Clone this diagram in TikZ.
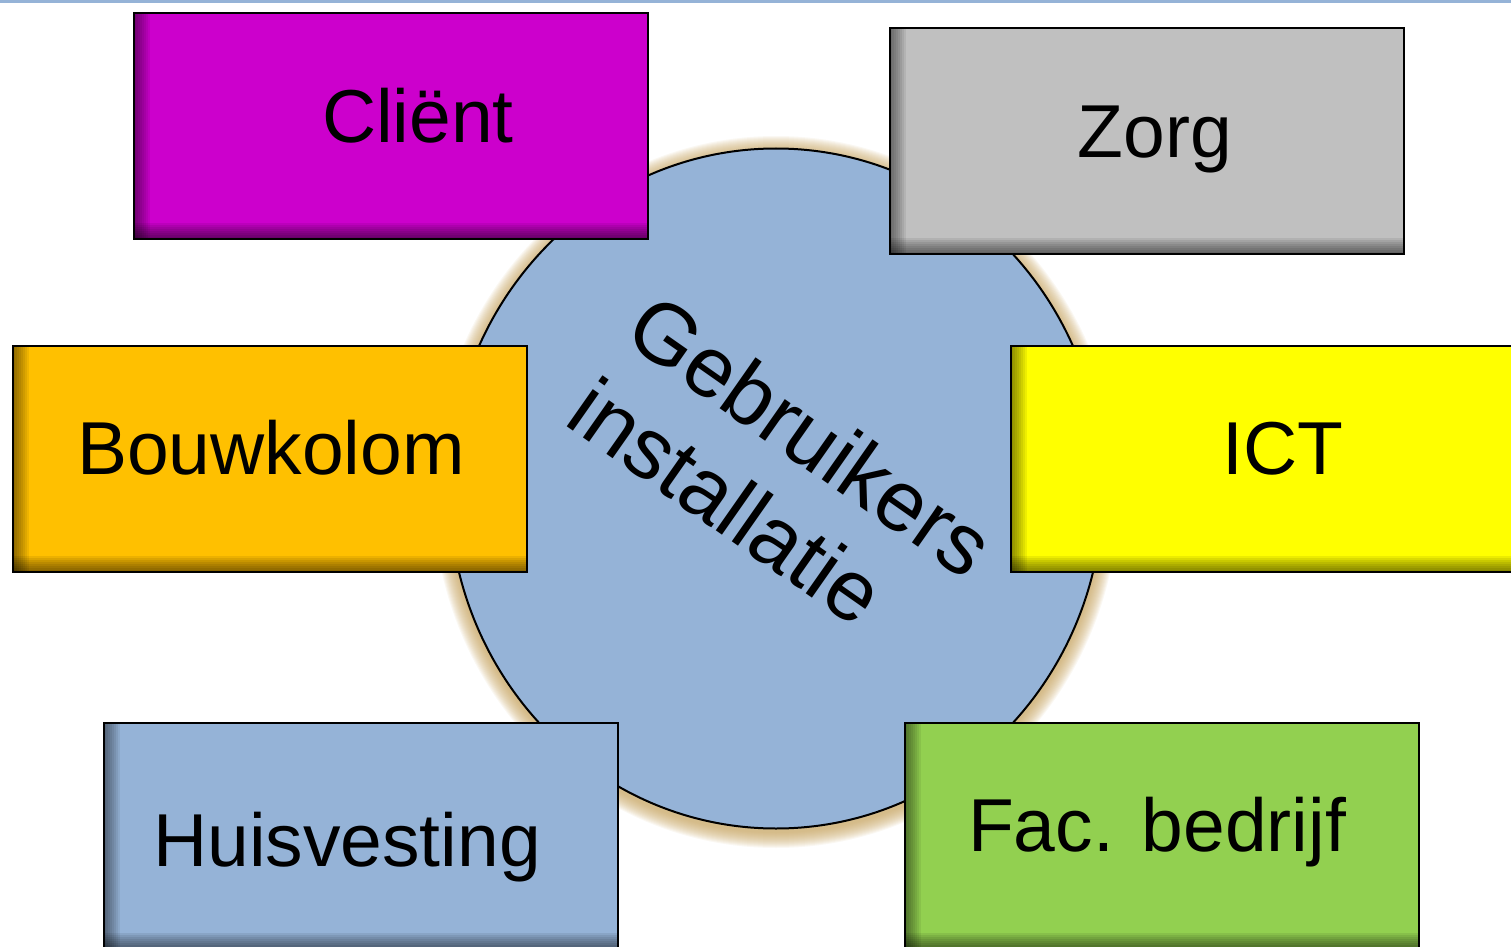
\documentclass[tikz,border=0pt]{standalone}
\usepackage{fontspec}
\setmainfont{Liberation Sans}
\usetikzlibrary{shapes.geometric}
\definecolor{cblue}{RGB}{149,179,215}
\definecolor{cmag}{RGB}{204,0,204}
\definecolor{cgray}{RGB}{192,192,192}
\definecolor{corange}{RGB}{255,192,0}
\definecolor{cyellow}{RGB}{255,255,0}
\definecolor{cgreen}{RGB}{146,208,80}
\definecolor{cglow}{RGB}{196,160,90}
\tikzset{
  box/.style={rectangle, fill=#1, draw=black, line width=1pt,
    minimum width=257pt, minimum height=113pt, inner sep=0pt, outer sep=0pt,
    path picture={
      \foreach \k in {1,...,8}{
        \fill[black, opacity=0.065]
          (path picture bounding box.south west) rectangle ([xshift=\k pt]path picture bounding box.north west);
        \fill[black, opacity=0.075]
          (path picture bounding box.south west) rectangle ([yshift=\k pt]path picture bounding box.south east);
      }
    }},
  boxtext/.style={anchor=base, inner sep=0pt, font=\fontsize{37.5pt}{45pt}\selectfont},
  hubtext/.style={inner sep=0pt, outer sep=0pt, rotate=-35, align=left,
    font=\fontsize{43pt}{51pt}\selectfont},
  hub/.style={ellipse, fill=cblue, draw=black, line width=1pt,
    minimum width=327pt, minimum height=340pt, inner sep=0pt}
}
\begin{document}
\begin{tikzpicture}[x=0.5pt,y=-0.5pt]
\useasboundingbox (0,0) rectangle (1511,947);
\fill[cblue] (0,0) rectangle (1511,3);
% glow
\foreach \i in {16,15,...,1}{
  \fill[cglow, opacity=0.075] (776,492) ellipse [x radius=327+\i, y radius=340+\i];
}
\node[hub] (gi) at (776,488.5) {};
\node[hubtext] (gitext) at (782,477) {Gebruikers\\installatie};
% boxes
\node[box=cmag]    (client) at (391,126) {};
\node[box=cgray]   (zorg)   at (1147,141) {};
\node[box=corange] (bouw)   at (270,459) {};
\node[box=cyellow] (ict)    at (1268,459) {};
\node[box=cblue]   (huis)   at (361,836) {};
\node[box=cgreen]  (fac)    at (1162,836) {};
% labels
\node[boxtext] (tclient) at (418,143) {Cliënt};
\node[boxtext] (tzorg)   at (1155,157) {Zorg};
\node[boxtext] (tbouw)   at (271,474) {Bouwkolom};
\node[boxtext] (tict)    at (1283,474) {ICT};
\node[boxtext] (thuis)   at (347,866) {Huisvesting};
\node[boxtext] (tfac)    at (1157,851) {Fac. bedrijf};
\end{tikzpicture}
\end{document}
